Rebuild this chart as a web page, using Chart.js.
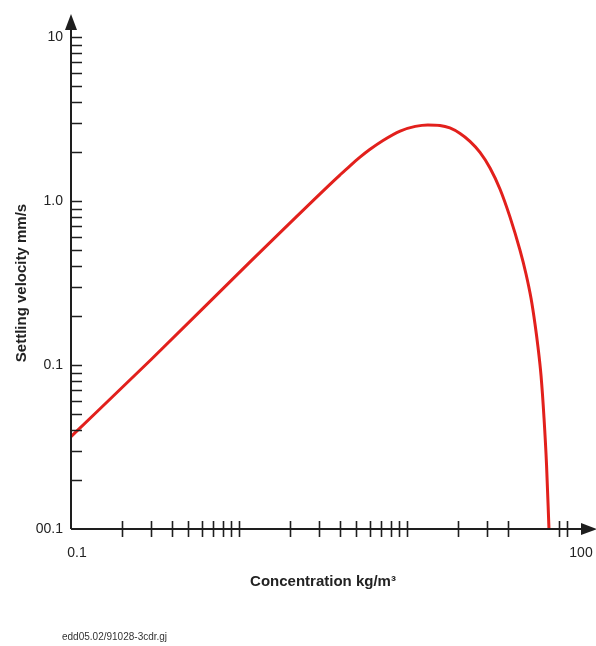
<!DOCTYPE html>
<html>
<head>
<meta charset="utf-8">
<script src="https://cdn.jsdelivr.net/npm/chart.js@4"></script>
<style>
  html, body { margin: 0; padding: 0; background: #fff; }
  #wrap { width: 596px; height: 646px; }
</style>
</head>
<body>
<div id="wrap"><canvas id="settleChart" width="596" height="646"></canvas></div>
<script>
// concentration (kg/m3) and settling velocity (mm/s)
const concentration = [0.1, 0.3, 1.16, 3.48, 4.0, 4.58, 5.25, 6.0, 7.2, 9.1, 11.2, 13.3, 15.7, 18, 20.7,
  23.7, 27.2, 31.2, 35.8, 41, 47, 51.1, 54.7, 57.8, 60.2, 62.8, 65.4, 67.7, 70];
const velocity = [0.0366, 0.108, 0.424, 1.264, 1.445, 1.64, 1.85, 2.06, 2.34, 2.67, 2.85, 2.91, 2.89, 2.79, 2.58,
  2.31, 1.98, 1.59, 1.18, 0.8, 0.503, 0.359, 0.256, 0.178, 0.129, 0.0857, 0.0475, 0.0246, 0.01];

// axis ticks
const xLabelValues = [0.1, 100];
const xLabels = ["0.1", "100"];
const xTickMarks = [0.2, 0.3, 0.4, 0.5, 0.6, 0.7, 0.8, 0.9, 1, 2, 3, 4, 5, 6, 7, 8, 9, 10, 20, 30, 40, 80, 90];
const yLabelValues = [0.01, 0.1, 1, 10];
const yLabels = ["00.1", "0.1", "1.0", "10"];
const yTickMarks = [0.02, 0.03, 0.04, 0.05, 0.06, 0.07, 0.08, 0.09, 0.1,
  0.2, 0.3, 0.4, 0.5, 0.6, 0.7, 0.8, 0.9, 1,
  2, 3, 4, 5, 6, 7, 8, 9, 10];

const footerText = "edd05.02/91028-3cdr.gj";
const ink = "#1e1e1e";

/* ===== axes, tick marks, arrows, footer ===== */
const axisDecor = {
  id: "axisDecor",
  afterDraw(chart) {
    const ctx = chart.ctx;
    const xs = chart.scales.x, ys = chart.scales.y;
    const a = chart.chartArea;
    ctx.save();
    ctx.strokeStyle = ink;
    ctx.fillStyle = ink;
    // axis lines
    ctx.lineWidth = 2;
    ctx.beginPath();
    ctx.moveTo(a.left, a.bottom);
    ctx.lineTo(a.left, 24);
    ctx.moveTo(a.left, a.bottom);
    ctx.lineTo(588, a.bottom);
    ctx.stroke();
    // arrows
    ctx.beginPath();
    ctx.moveTo(a.left, 14);
    ctx.lineTo(a.left - 6, 30);
    ctx.lineTo(a.left + 6, 30);
    ctx.closePath();
    ctx.fill();
    ctx.beginPath();
    ctx.moveTo(597, a.bottom);
    ctx.lineTo(581, a.bottom - 6);
    ctx.lineTo(581, a.bottom + 6);
    ctx.closePath();
    ctx.fill();
    // tick marks
    ctx.lineWidth = 1.6;
    ctx.beginPath();
    xTickMarks.forEach(v => {
      const px = Math.round(xs.getPixelForValue(v)) + 0.5;
      ctx.moveTo(px, a.bottom - 8);
      ctx.lineTo(px, a.bottom + 8);
    });
    yTickMarks.forEach(v => {
      const py = Math.round(ys.getPixelForValue(v)) + 0.5;
      ctx.moveTo(a.left, py);
      ctx.lineTo(a.left + 11, py);
    });
    ctx.stroke();
    // footer
    ctx.font = "10px 'Liberation Sans', Arial, sans-serif";
    ctx.fillStyle = "#333";
    ctx.textBaseline = "middle";
    ctx.fillText(footerText, 62, 637);
    ctx.restore();
  }
};

new Chart(document.getElementById("settleChart"), {
  type: "line",
  data: {
    datasets: [{
      data: concentration.map((c, i) => ({ x: c, y: velocity[i] })),
      borderColor: "#e2201c",
      borderWidth: 3,
      pointRadius: 0,
      cubicInterpolationMode: "monotone",
      fill: false
    }]
  },
  options: {
    responsive: false,
    animation: false,
    events: [],
    layout: { padding: { left: 0, right: 21, top: 37, bottom: 0 } },
    plugins: { legend: { display: false }, tooltip: { enabled: false } },
    scales: {
      x: {
        type: "logarithmic",
        min: 0.1,
        max: 100,
        afterFit(s) { s.height = 117; s.paddingLeft = 0; s.paddingRight = 0; },
        afterBuildTicks(s) { s.ticks = xLabelValues.map(v => ({ value: v })); },
        grid: { display: false, drawTicks: false },
        border: { display: false },
        ticks: {
          autoSkip: false,
          maxRotation: 0,
          padding: 16,
          labelOffset: 6,
          color: "#222",
          font: { family: "'Liberation Sans', Arial, sans-serif", size: 14 },
          callback: (v, i) => xLabels[i]
        },
        title: {
          display: true,
          text: "Concentration kg/m³",
          color: "#222",
          padding: { bottom: 55 },
          font: { family: "'Liberation Sans', Arial, sans-serif", size: 15, weight: "bold" }
        }
      },
      y: {
        type: "logarithmic",
        min: 0.01,
        max: 10,
        afterFit(s) { s.width = 71; s.paddingTop = 0; s.paddingBottom = 0; },
        afterBuildTicks(s) { s.ticks = yLabelValues.map(v => ({ value: v })); },
        grid: { display: false, drawTicks: false },
        border: { display: false },
        ticks: {
          autoSkip: false,
          padding: 8,
          color: "#222",
          font: { family: "'Liberation Sans', Arial, sans-serif", size: 14 },
          callback: (v, i) => yLabels[i]
        },
        title: {
          display: true,
          text: "Settling velocity mm/s",
          color: "#222",
          padding: { top: 13 },
          font: { family: "'Liberation Sans', Arial, sans-serif", size: 15, weight: "bold" }
        }
      }
    }
  },
  plugins: [axisDecor]
});
</script>
</body>
</html>
